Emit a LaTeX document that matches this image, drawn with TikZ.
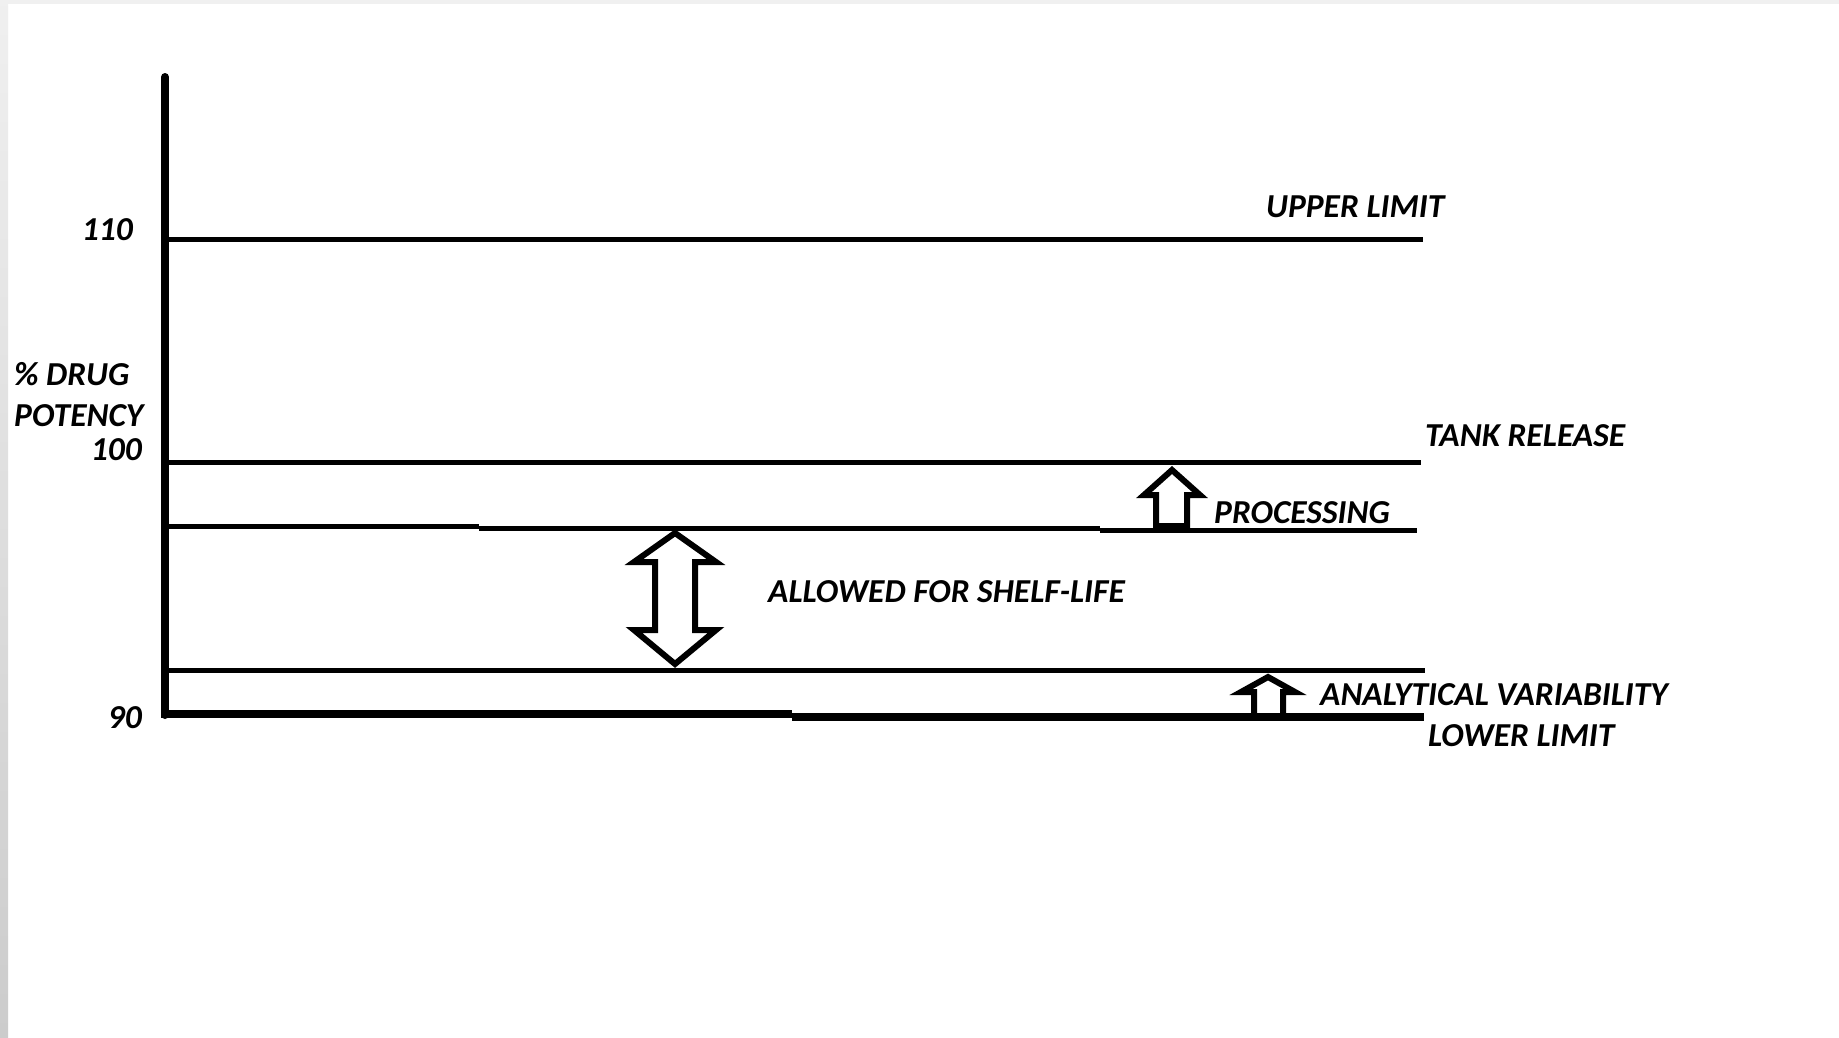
\documentclass[tikz,border=0pt]{standalone}
\usepackage{fontspec}
\setmainfont{Carlito}
\begin{document}
\begin{tikzpicture}[x=1pt,y=-1pt,
  lbl/.style={font=\fontsize{33.5}{40}\selectfont\bfseries\itshape, inner sep=0pt, anchor=base west},
  lblr/.style={lbl, anchor=base east},
  hline/.style={line width=5pt},
  hollow/.style={draw=black, fill=white, line width=6pt, line join=miter}]
\useasboundingbox (0,0) rectangle (1839,1037);
\fill[white] (0,0) rectangle (1839,1037);
\shade[top color=gray!12, bottom color=gray!40] (0,0) rectangle (8,1037);
\fill[gray!12] (8,0) rectangle (1839,4);
% arrows
\draw[hollow] (675,533) -- (716,562) -- (695,562) -- (695,630) -- (716,630) -- (675,664)
  -- (634,630) -- (655,630) -- (655,562) -- (634,562) -- cycle;
\draw[hollow] (1172,470) -- (1200,495) -- (1187,495) -- (1187,526) -- (1156,526) -- (1156,495) -- (1144,495) -- cycle;
\draw[hollow] (1268,677) -- (1295,692) -- (1283,692) -- (1283,716) -- (1254,716) -- (1254,692) -- (1241,692) -- cycle;
% axis
\coordinate (top) at (165,77);
\coordinate (origin) at (165,715);
\draw[line width=8pt, line cap=round] (top) -- (origin);
% horizontal lines
\draw[hline] (168,239) -- (1423,239);
\draw[hline] (168,462) -- (1421,462);
\draw[hline] (168,526) -- (479,526);
\draw[hline] (479,528) -- (1100,528);
\draw[hline] (1100,530) -- (1417,530);
\draw[hline] (168,670) -- (1425,670);
\draw[line width=8pt] (161,714) -- (792,714);
\draw[line width=8pt] (792,717) -- (1424,717);
% labels
\node[lblr] (l110) at (133,240) {110};
\node[lbl] (drug) at (14,385) {\% DRUG};
\node[lbl] (pot) at (14,426) {POTENCY};
\node[lblr] (l100) at (142,460) {100};
\node[lblr] (l90) at (142,728) {90};
\node[lbl] (upper) at (1266,217) {UPPER LIMIT};
\node[lbl] (tank) at (1425,446) {TANK RELEASE};
\node[lbl] (proc) at (1214,523) {PROCESSING};
\node[lbl] (shelf) at (768,602) {ALLOWED FOR SHELF-LIFE};
\node[lbl] (anal) at (1320,705) {ANALYTICAL VARIABILITY};
\node[lbl] (lower) at (1428,746) {LOWER LIMIT};
\end{tikzpicture}
\end{document}
